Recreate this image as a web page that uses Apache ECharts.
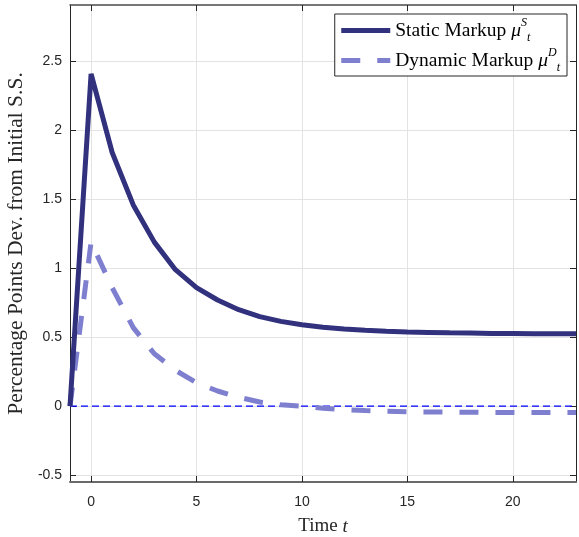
<!DOCTYPE html>
<html><head><meta charset="utf-8">
<script src="https://cdn.jsdelivr.net/npm/echarts@6/dist/echarts.min.js"></script>
<style>html,body{margin:0;padding:0;background:#fff}#c{width:579px;height:537px}</style>
</head><body><div id="c"></div>
<script>
const timeSteps = [-1,0,1,2,3,4,5,6,7,8,9,10,11,12,13,14,15,16,17,18,19,20,21,22,23];
const staticMarkup = [0,2.41,1.84,1.46,1.19,0.99,0.86,0.77,0.70,0.65,0.615,0.59,0.572,0.56,0.55,0.543,0.538,0.535,0.532,0.53,0.528,0.527,0.526,0.525,0.525];
const dynamicMarkup = [0,1.19,0.86,0.57,0.38,0.26,0.17,0.11,0.065,0.03,0.01,0.0,-0.015,-0.025,-0.032,-0.037,-0.04,-0.042,-0.043,-0.044,-0.045,-0.045,-0.046,-0.046,-0.046];
const zeroLine = [[-1,0],[23,0]];
const xTicks = [0,5,10,15,20];
const yTicks = [-0.5,0,0.5,1,1.5,2,2.5];
const seriesNames = ['Static Markup', 'Dynamic Markup'];

const pair = (xs, ys) => xs.map((x,i)=>[x, ys[i]]);
const chart = echarts.init(document.getElementById('c'));
const serif = 'Liberation Serif';
const sans = 'Liberation Sans';
const axisCol = '#262626';
const xBase = {type:'value', min:-1, max:23};
const yBase = {type:'value', min:-0.55, max:2.91};
const lf = 19.5;
chart.setOption({
  animation:false,
  grid:{left:70, top:5, right:3, bottom:55, containLabel:false, outerBoundsMode:'none'},
  legend:{
    orient:'vertical', right:12, top:14, padding:[3,7,2,4], itemGap:3,
    backgroundColor:'#fff', borderColor:'#262626', borderWidth:1, borderRadius:0,
    itemWidth:49, itemHeight:14,
    itemStyle:{opacity:0},
    lineStyle:{width:5},
    data:seriesNames,
    formatter: n => n === seriesNames[0]
      ? '{t|Static Markup }{mu|μ}{sup|S}{sub|t}'
      : '{t|Dynamic Markup }{mu|μ}{sup|D}{sub|t}',
    textStyle:{
      fontFamily:serif, fontSize:lf, color:'#000', lineHeight:27,
      rich:{
        t:{fontFamily:serif, fontSize:lf, color:'#000', lineHeight:27},
        mu:{fontFamily:serif, fontSize:lf, fontStyle:'italic', color:'#000', lineHeight:27},
        sup:{fontFamily:serif, fontSize:12, fontStyle:'italic', color:'#000', verticalAlign:'top', lineHeight:27},
        sub:{fontFamily:serif, fontSize:12, fontStyle:'italic', color:'#000', verticalAlign:'bottom', lineHeight:27}
      }
    }
  },
  xAxis:[
    Object.assign({}, xBase, {
      position:'bottom',
      name:'{a|Time }{b|t}', nameLocation:'middle', nameGap:35,
      nameTextStyle:{rich:{a:{fontFamily:serif,fontSize:19,color:'#262626'},b:{fontFamily:serif,fontSize:19,fontStyle:'italic',color:'#262626'}}},
      axisLine:{show:true, onZero:false, lineStyle:{color:'#6a6a6a', width:2}},
      axisTick:{show:true, inside:true, length:6, customValues:xTicks, lineStyle:{color:axisCol}},
      axisLabel:{customValues:xTicks, fontFamily:sans, fontSize:14, color:axisCol, margin:13},
      splitLine:{show:true, lineStyle:{color:'#e3e3e3', width:1}}
    }),
    Object.assign({}, xBase, {
      position:'top',
      axisLine:{show:true, onZero:false, lineStyle:{color:'#4a4a4a', width:1.5}},
      axisTick:{show:true, inside:true, length:6, customValues:xTicks, lineStyle:{color:axisCol}},
      axisLabel:{show:false},
      splitLine:{show:false}
    })
  ],
  yAxis:[
    Object.assign({}, yBase, {
      position:'left',
      name:'Percentage Points Dev. from Initial S.S.', nameLocation:'middle', nameGap:33,
      nameTextStyle:{fontFamily:serif, fontSize:21.5, color:'#262626'},
      axisLine:{show:true, onZero:false, lineStyle:{color:axisCol, width:1}},
      axisTick:{show:true, inside:true, length:6, customValues:yTicks, lineStyle:{color:axisCol}},
      axisLabel:{customValues:yTicks, fontFamily:sans, fontSize:14, color:axisCol, margin:8},
      splitLine:{show:true, lineStyle:{color:'#e3e3e3', width:1}}
    }),
    Object.assign({}, yBase, {
      position:'right',
      axisLine:{show:true, onZero:false, lineStyle:{color:axisCol, width:1}},
      axisTick:{show:true, inside:true, length:6, customValues:yTicks, lineStyle:{color:axisCol}},
      axisLabel:{show:false},
      splitLine:{show:false}
    })
  ],
  series:[
    {name:'zero', type:'line', data:zeroLine, symbol:'none', silent:true, z:1,
     lineStyle:{color:'#0000ff', width:1.2, type:[7,4]}},
    {name:seriesNames[0], type:'line', data:pair(timeSteps, staticMarkup), symbol:'none', z:3,
     color:'#31317d', lineStyle:{color:'#31317d', width:5}},
    {name:seriesNames[1], type:'line', data:pair(timeSteps, dynamicMarkup), symbol:'none', z:2,
     color:'#7f7fd0', lineStyle:{color:'#7f7fd0', width:5, type:[19,17]}}
  ]
});
</script></body></html>
